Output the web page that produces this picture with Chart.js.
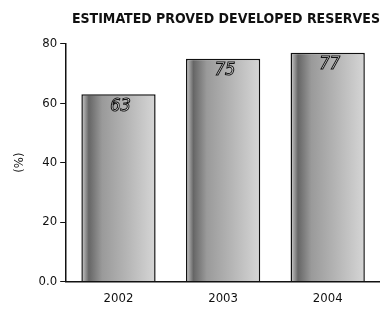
<!DOCTYPE html>
<html>
<head>
<meta charset="utf-8">
<script src="https://cdn.jsdelivr.net/npm/chart.js@4"></script>
<style>
  body { margin: 0; background: #ffffff; }
  #box { width: 380px; height: 310px; }
</style>
</head>
<body>
<div id="box"><canvas id="reservas"></canvas></div>
<script>
const anos = ["2002", "2003", "2004"]
const reservas = [63, 75, 77]
const ticksY = [0, 20, 40, 60, 80]

// gradiente horizontal dentro de cada barra (escuro na esquerda)
function fundoBarra(context) {
    const chart = context.chart
    const eixoX = chart.scales.x
    if (!eixoX || !chart.chartArea || context.dataIndex === undefined) return '#b0b0b0'
    const centro = eixoX.getPixelForValue(context.dataIndex)
    const largura = (eixoX.width / anos.length) * 0.71
    const x0 = centro - largura / 2
    const g = chart.ctx.createLinearGradient(x0, 0, x0 + largura, 0)
    g.addColorStop(0, '#cfcfcf')
    g.addColorStop(0.1, '#666666')
    g.addColorStop(0.28, '#9a9a9a')
    g.addColorStop(0.6, '#b4b4b4')
    g.addColorStop(1, '#d6d6d6')
    return g
}

const rotulos = {
    id: 'rotulos',
    afterDatasetsDraw(chart) {
        const ctx = chart.ctx
        const meta = chart.getDatasetMeta(0)
        ctx.save()
        ctx.font = 'italic 18px "DejaVu Sans Condensed"'
        ctx.textAlign = 'center'
        ctx.textBaseline = 'middle'
        ctx.lineWidth = 1
        meta.data.forEach((bar, i) => {
            ctx.fillStyle = '#ffffff'
            ctx.fillText(reservas[i], bar.x + 2, bar.y + 12)
            ctx.strokeStyle = '#111111'
            ctx.strokeText(reservas[i], bar.x + 2, bar.y + 12)
        })
        ctx.restore()
    }
}

new Chart(document.getElementById("reservas"), {
    type: 'bar',
    data: {
        labels: anos,
        datasets: [{
            label: "Reservas",
            data: reservas,
            backgroundColor: fundoBarra,
            borderColor: '#111111',
            borderWidth: 1.5,
            barPercentage: 0.71,
            categoryPercentage: 1
        }]
    },
    options: {
        responsive: true,
        maintainAspectRatio: false,
        animation: false,
        layout: {
            padding: { top: 4, right: 0, left: 8, bottom: 3 }
        },
        plugins: {
            legend: { display: false },
            tooltip: { enabled: false },
            title: {
                display: true,
                text: 'ESTIMATED PROVED DEVELOPED RESERVES',
                color: '#111111',
                align: 'end',
                font: { family: 'DejaVu Sans Condensed', size: 14, weight: 'bold' },
                padding: { top: 7, bottom: 16 }
            }
        },
        scales: {
            x: {
                grid: { display: false },
                border: { color: '#111111', width: 1.5 },
                ticks: {
                    color: '#111111',
                    font: { family: 'DejaVu Sans Condensed', size: 13 },
                    padding: 1
                }
            },
            y: {
                min: 0,
                max: 80,
                afterBuildTicks(axis) {
                    axis.ticks = ticksY.map(v => ({ value: v }))
                },
                grid: {
                    drawOnChartArea: false,
                    drawTicks: true,
                    tickLength: 6,
                    color: '#111111'
                },
                border: { color: '#111111', width: 1.5 },
                ticks: {
                    color: '#111111',
                    font: { family: 'DejaVu Sans Condensed', size: 13 },
                    padding: 3,
                    callback: v => v === 0 ? '0.0' : v
                },
                title: {
                    display: true,
                    text: '(%)',
                    color: '#111111',
                    font: { family: 'DejaVu Sans Condensed', size: 13 },
                    padding: { bottom: 8 }
                }
            }
        }
    },
    plugins: [rotulos]
});
</script>
</body>
</html>
